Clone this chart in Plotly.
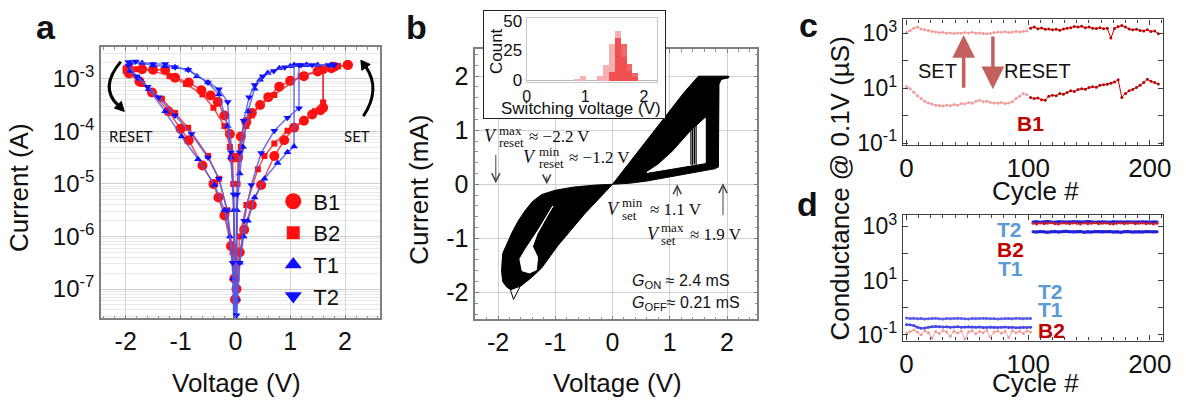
import numpy as np
import plotly.graph_objects as go

W, H = 1190, 410
FONT = "Liberation Sans, Arial, Helvetica, sans-serif"
SERIF = "Liberation Serif, DejaVu Serif, Times New Roman, serif"

def px(x):
    return x / W

def py(y):
    return 1 - y / H

# ---------------- Panel a : I-V loops (V in volts, log10 of current in A) ----------------
a_b1_v = [0.0, 0.02, 0.08, 0.16, 0.3, 0.47, 0.71, 0.89, 1.07, 1.25, 1.4, 1.55, 1.6, 1.6, 1.8, 2.05,
          2.05, 1.75, 1.5, 1.25, 1.0, 0.8, 0.6, 0.45, 0.3, 0.2, 0.1, 0.05, 0.0,
          -0.05, -0.1, -0.2, -0.32, -0.45, -0.62, -0.85, -1.1, -1.28, -1.5, -1.7, -1.94,
          -1.94, -1.75, -1.52, -1.22, -1.0, -0.85, -0.6, -0.4, -0.31, -0.2, -0.08, -0.02, 0.0]
a_b1_logi = [-7.2, -7.0, -6.3, -5.87, -5.4, -5.02, -4.47, -4.17, -3.93, -3.8, -3.68, -3.6, -3.55, -2.82, -2.77, -2.74,
             -2.74, -2.8, -2.86, -2.95, -3.04, -3.15, -3.35, -3.5, -3.65, -3.82, -4.1, -4.5, -7.2,
             -4.5, -4.05, -3.7, -3.44, -3.32, -3.22, -3.07, -2.98, -2.83, -2.83, -2.82, -2.81,
             -2.9, -3.05, -3.26, -3.62, -3.95, -4.17, -4.65, -5.0, -5.26, -5.6, -6.18, -6.8, -7.2]

a_b2_v = [0.0, 0.02, 0.08, 0.2, 0.41, 0.53, 0.71, 0.95, 1.25, 1.45, 1.6, 1.6, 1.87,
          1.87, 1.6, 1.19, 0.71, 0.45, 0.3, 0.2, 0.1, 0.04, 0.0,
          -0.04, -0.1, -0.2, -0.4, -0.6, -0.9, -1.2, -1.5, -1.8, -2.0,
          -2.0, -1.7, -1.34, -1.1, -0.86, -0.5, -0.3, -0.15, -0.05, 0.0]
a_b2_logi = [-7.2, -6.8, -6.0, -5.4, -4.72, -4.47, -4.23, -3.99, -3.8, -3.62, -3.45, -2.83, -2.76,
             -2.76, -2.82, -2.95, -3.31, -3.5, -3.7, -3.9, -4.3, -5.0, -7.2,
             -5.0, -4.3, -3.9, -3.55, -3.3, -3.1, -2.95, -2.85, -2.82, -2.8,
             -2.85, -3.1, -3.38, -3.65, -3.93, -4.47, -4.9, -5.5, -6.3, -7.2]

a_t1_v = [0.0, 0.03, 0.08, 0.15, 0.23, 0.35, 0.53, 0.77, 0.95, 1.07, 1.07, 1.3, 1.5, 1.75,
          1.75, 1.3, 1.0, 0.8, 0.59, 0.45, 0.35, 0.23, 0.14, 0.08, 0.03, 0.0,
          -0.03, -0.08, -0.14, -0.3, -0.5, -0.7, -0.86, -1.1, -1.28, -1.5, -1.7, -1.92,
          -1.92, -1.75, -1.58, -1.28, -0.98, -0.68, -0.38, -0.2, -0.1, -0.04, 0.0]
a_t1_logi = [-9.0, -7.2, -6.5, -6.0, -5.7, -5.26, -4.9, -4.6, -4.4, -4.29, -2.74, -2.74, -2.74, -2.74,
             -2.74, -2.74, -2.76, -2.8, -2.89, -3.02, -3.19, -3.62, -4.3, -4.8, -5.5, -9.0,
             -5.5, -4.5, -3.9, -3.3, -3.07, -2.95, -2.83, -2.78, -2.76, -2.75, -2.7, -2.7,
             -2.85, -3.0, -3.2, -3.62, -4.1, -4.53, -5.02, -5.5, -6.0, -6.8, -9.0]

a_t2_v = [0.0, 0.02, 0.08, 0.16, 0.29, 0.47, 0.71, 0.95, 1.16, 1.16, 1.4, 1.7, 1.8,
          1.8, 1.2, 0.9, 0.7, 0.5, 0.35, 0.25, 0.15, 0.08, 0.03, 0.0,
          -0.03, -0.08, -0.14, -0.3, -0.5, -0.86, -1.1, -1.28, -1.5, -1.82, -1.95,
          -1.95, -1.8, -1.6, -1.4, -1.1, -0.8, -0.5, -0.3, -0.15, -0.05, 0.0]
a_t2_logi = [-9.0, -7.5, -6.5, -5.7, -5.02, -4.41, -3.99, -3.74, -3.56, -2.74, -2.74, -2.74, -2.74,
             -2.74, -2.74, -2.78, -2.85, -2.95, -3.12, -3.35, -3.8, -4.4, -5.2, -9.0,
             -5.2, -4.4, -3.44, -3.2, -3.07, -2.83, -2.78, -2.72, -2.72, -2.67, -2.68,
             -2.75, -2.95, -3.15, -3.35, -3.7, -4.05, -4.5, -4.9, -5.5, -6.5, -9.0]

a_names = ["B1", "B2", "T1", "T2"]
a_tick_v = [-2, -1, 0, 1, 2]
a_tick_text = ["-2", "-1", "0", "1", "2"]
a_tick_i = [1e-7, 1e-6, 1e-5, 1e-4, 1e-3]
a_tick_i_text = ["10<sup>-7</sup>", "10<sup>-6</sup>", "10<sup>-5</sup>", "10<sup>-4</sup>", "10<sup>-3</sup>"]

# ---------------- Panel b : envelope of ~100 I-V cycles (V, mA) ----------------
b_pos_outer_v = [0, 0.35, 0.7, 1.05, 1.25, 1.5, 2.03, 2.03, 1.9, 1.86, 1.85, 1.8, 1.5, 1.2, 0.9, 0.6, 0.3, 0]
b_pos_outer_i = [0, 0.47, 0.95, 1.42, 1.7, 2.0, 2.0, 1.97, 1.94, 1.85, 0.33, 0.29, 0.23, 0.17, 0.11, 0.06, 0.02, 0]
b_pos_hole_v = [0.6, 1.0, 1.35, 1.62, 1.62, 1.37, 1.05, 0.8, 0.6]
b_pos_hole_i = [0.22, 0.29, 0.35, 0.4, 1.22, 0.98, 0.6, 0.36, 0.22]
b_neg_outer_v = [0, -0.3, -0.67, -1.0, -1.24, -1.4, -1.53, -1.65, -1.76, -1.85, -1.92, -1.94, -1.92,
                 -1.85, -1.78, -1.6, -1.55, -1.41, -1.24, -0.96, -0.49, 0]
b_neg_outer_i = [0, -0.015, -0.05, -0.11, -0.19, -0.32, -0.49, -0.68, -0.9, -1.1, -1.28, -1.6, -1.8,
                 -1.9, -1.95, -1.88, -1.84, -1.72, -1.55, -1.14, -0.55, 0]
b_neg_hole_v = [-1.04, -1.3, -1.52, -1.62, -1.58, -1.45, -1.33, -1.31, -1.40, -1.32, -1.06, -1.04]
b_neg_hole_i = [-0.40, -0.85, -1.2, -1.38, -1.6, -1.64, -1.58, -1.35, -1.15, -0.92, -0.43, -0.40]
b_tail_v = [-1.8, -1.73, -1.62]
b_tail_i = [-1.9, -2.13, -1.9]
b_set_v = [1.37, 1.40, 1.43, 1.46, 1.66, 1.72, 1.78, 1.84]
b_set_lo = [0.36, 0.35, 0.37, 0.36, 0.33, 0.31, 0.32, 0.30]
b_set_hi = [1.05, 1.10, 1.16, 1.22, 1.60, 1.75, 1.90, 1.96]
b_tick_v = [-2, -1, 0, 1, 2]
b_tick_text = ["-2", "-1", "0", "1", "2"]

# inset histogram of switching voltage
h_pink_v = [0.85, 0.95, 1.25, 1.35, 1.45, 1.55, 1.65, 1.75, 1.85]
h_pink_n = [1, 4, 4, 13, 31, 42, 20, 8, 3]
h_red_v = [1.45, 1.55, 1.65, 1.75, 1.85]
h_red_n = [7, 36, 31, 14, 6]

# ---------------- Panel c : B1 conductance vs cycle (log10 uS) ----------------
c_cyc1 = list(range(0, 100, 3))
c_cyc2 = list(range(102, 208, 3))
c_set1 = [3.02, 3.10, 3.18, 3.22, 3.15, 3.12, 3.10, 3.06, 3.04, 3.02, 3.03, 3.00, 3.01, 2.99, 3.01, 3.00, 3.02,
          3.01, 3.03, 3.00, 3.01, 2.99, 2.98, 2.99, 3.02, 3.04, 3.03, 3.05, 3.02, 3.04, 3.06, 3.04, 3.07, 3.08]
c_set2 = [3.18, 3.22, 3.16, 3.19, 3.14, 3.15, 3.12, 3.14, 3.11, 3.15, 3.18, 3.20, 3.24, 3.22, 3.25, 3.20, 3.22,
          3.18, 3.17, 3.20, 3.16, 3.18, 2.82, 3.17, 3.24, 3.28, 3.22, 3.15, 3.12, 3.14, 3.10, 3.08, 3.12, 3.06,
          3.08, 2.98]
c_rst1 = [1.06, 0.98, 0.85, 0.72, 0.62, 0.52, 0.46, 0.42, 0.38, 0.37, 0.35, 0.38, 0.36, 0.40, 0.38, 0.44, 0.42,
          0.48, 0.45, 0.52, 0.56, 0.50, 0.52, 0.48, 0.46, 0.45, 0.48, 0.44, 0.46, 0.50, 0.62, 0.70, 0.80, 0.76]
c_rst2 = [0.66, 0.62, 0.64, 0.58, 0.56, 0.70, 0.74, 0.72, 0.80, 0.78, 0.84, 0.90, 0.88, 0.95, 0.98, 0.96, 1.02,
          1.05, 1.03, 1.10, 1.12, 1.14, 1.18, 1.22, 1.30, 0.66, 0.80, 0.90, 0.95, 1.02, 1.10, 1.20, 1.32, 1.25,
          1.20, 1.15]

# ---------------- Panel d : T1, T2, B2 conductance vs cycle (log10 uS) ----------------
d_cyc_off = list(range(0, 103, 3))
d_cyc_on = list(range(104, 209, 3))
d_off_t2 = [-0.38, -0.40, -0.39, -0.41, -0.40, -0.42, -0.41, -0.40, -0.39, -0.41,
            -0.42, -0.40, -0.41, -0.40, -0.39, -0.40, -0.41, -0.42, -0.40, -0.41,
            -0.40, -0.39, -0.40, -0.41, -0.40, -0.42, -0.41, -0.40, -0.40, -0.41,
            -0.39, -0.40, -0.41, -0.40, -0.40]
d_off_t1 = [-0.62, -0.63, -0.66, -0.72, -0.76, -0.75, -0.72, -0.70, -0.69, -0.70,
            -0.71, -0.70, -0.72, -0.71, -0.70, -0.72, -0.71, -0.70, -0.71, -0.72,
            -0.71, -0.73, -0.72, -0.71, -0.72, -0.73, -0.72, -0.71, -0.73, -0.72,
            -0.74, -0.73, -0.72, -0.73, -0.72]
d_off_b2 = [-0.95, -0.88, -0.82, -0.90, -1.00, -0.85, -0.92, -1.12, -0.88, -0.95,
            -0.84, -0.90, -1.05, -0.87, -0.93, -0.86, -1.15, -0.90, -0.85, -0.96,
            -0.88, -0.92, -0.84, -1.08, -0.90, -0.86, -0.94, -0.88, -1.10, -0.85,
            -0.92, -0.87, -0.95, -0.86, -0.90]
d_on_t2 = [3.16, 3.17, 3.15, 3.16, 3.18, 3.16, 3.15, 3.17, 3.16, 3.15,
           3.16, 3.17, 3.16, 3.15, 3.16, 3.18, 3.16, 3.15, 3.16, 3.17,
           3.16, 3.15, 3.17, 3.16, 3.16, 3.15, 3.17, 3.16, 3.15, 3.16,
           3.17, 3.16, 3.15, 3.16, 3.16]
d_on_b2 = [3.11, 3.09, 3.12, 3.10, 3.11, 3.13, 3.10, 3.09, 3.12, 3.11,
           3.10, 3.12, 3.11, 3.09, 3.12, 3.10, 3.11, 3.13, 3.10, 3.11,
           3.12, 3.10, 3.09, 3.11, 3.12, 3.10, 3.11, 3.13, 3.10, 3.11,
           3.12, 3.10, 3.11, 3.09, 3.11]
d_on_t1 = [2.80, 2.79, 2.81, 2.80, 2.78, 2.80, 2.81, 2.79, 2.80, 2.82,
           2.80, 2.79, 2.80, 2.81, 2.78, 2.80, 2.79, 2.81, 2.80, 2.79,
           2.80, 2.81, 2.79, 2.80, 2.78, 2.80, 2.81, 2.79, 2.80, 2.80,
           2.79, 2.81, 2.80, 2.79, 2.80]
cd_tick_g = [0.1, 1, 10, 100, 1000]
cd_tick_text = ["10<sup>-1</sup>", "", "10<sup>1</sup>", "", "10<sup>3</sup>"]
cd_tick_cyc = [0, 100, 200]

RED_L = "rgba(235,45,50,0.85)"
BLUE_L = "rgba(80,90,235,0.85)"
RED_M = "#ff1010"
BLUE_M = "#1010ff"

fig = go.Figure()

# ---- panel a traces ----
a_sets = [
    (a_b1_v, a_b1_logi, "circle", 10, RED_M, RED_L),
    (a_b2_v, a_b2_logi, "square", 6, RED_M, RED_L),
    (a_t1_v, a_t1_logi, "triangle-up", 7, BLUE_M, BLUE_L),
    (a_t2_v, a_t2_logi, "triangle-down", 7, BLUE_M, BLUE_L),
]
for v, li, sym, sz, mc, lc in a_sets:
    fig.add_trace(go.Scatter(x=v, y=np.power(10.0, li), mode="lines+markers",
                             line=dict(color=lc, width=1.5),
                             marker=dict(symbol=sym, size=sz, color=mc, line=dict(width=0)),
                             xaxis="x", yaxis="y", showlegend=False, hoverinfo="skip"))
leg_sym = [("circle", 16, RED_M), ("square", 13, RED_M), ("triangle-up", 15, BLUE_M), ("triangle-down", 15, BLUE_M)]
for name, (sym, sz, col) in zip(a_names, leg_sym):
    fig.add_trace(go.Scatter(x=[None], y=[None], mode="markers", name=name,
                             marker=dict(symbol=sym, size=sz, color=col),
                             xaxis="x", yaxis="y", showlegend=True))

# ---- panel b traces ----
def poly(v, i, fillc):
    return go.Scatter(x=v, y=i, mode="lines", fill="toself", fillcolor=fillc,
                      line=dict(color=fillc, width=1), xaxis="x2", yaxis="y2",
                      showlegend=False, hoverinfo="skip")

fig.add_trace(poly(b_pos_outer_v, b_pos_outer_i, "black"))
fig.add_trace(poly(b_neg_outer_v, b_neg_outer_i, "black"))
fig.add_trace(poly(b_pos_hole_v, b_pos_hole_i, "white"))
fig.add_trace(poly(b_neg_hole_v, b_neg_hole_i, "white"))
sx, sy = [], []
for v, lo, hi in zip(b_set_v, b_set_lo, b_set_hi):
    sx += [v, v, None]
    sy += [lo, hi, None]
fig.add_trace(go.Scatter(x=sx, y=sy, mode="lines", line=dict(color="black", width=1.2),
                         xaxis="x2", yaxis="y2", showlegend=False, hoverinfo="skip"))
fig.add_trace(go.Scatter(x=b_tail_v, y=b_tail_i, mode="lines", line=dict(color="black", width=1),
                         xaxis="x2", yaxis="y2", showlegend=False, hoverinfo="skip"))

# ---- inset box + histogram ----
fig.add_trace(go.Scatter(x=[], y=[], xaxis="x5", yaxis="y5", showlegend=False, hoverinfo="skip"))
fig.add_trace(go.Bar(x=h_pink_v, y=h_pink_n, width=0.1, marker=dict(color="#f7b0b0", line=dict(width=0)),
                     xaxis="x6", yaxis="y6", showlegend=False, hoverinfo="skip"))
fig.add_trace(go.Bar(x=h_red_v, y=h_red_n, width=0.1, marker=dict(color="rgba(236,40,40,0.7)", line=dict(width=0)),
                     xaxis="x6", yaxis="y6", showlegend=False, hoverinfo="skip"))

# ---- panel c ----
def cyc_trace(x, logv, col, ax, ay, lw=1, ms=3):
    return go.Scatter(x=x, y=np.power(10.0, logv), mode="lines+markers",
                      line=dict(color=col, width=lw), marker=dict(color=col, size=ms),
                      xaxis=ax, yaxis=ay, showlegend=False, hoverinfo="skip")

PINK = "#f29c9c"
DRED = "#c00000"
fig.add_trace(cyc_trace(c_cyc1, c_set1, PINK, "x3", "y3"))
fig.add_trace(cyc_trace(c_cyc1, c_rst1, PINK, "x3", "y3"))
fig.add_trace(cyc_trace(c_cyc2, c_set2, DRED, "x3", "y3"))
fig.add_trace(cyc_trace(c_cyc2, c_rst2, DRED, "x3", "y3"))

# ---- panel d ----
fig.add_trace(cyc_trace(d_cyc_off, d_off_b2, PINK, "x4", "y4", 1, 3))
fig.add_trace(cyc_trace(d_cyc_off, d_off_t1, "#4646e6", "x4", "y4", 2, 3))
fig.add_trace(cyc_trace(d_cyc_off, d_off_t2, "#5a5af0", "x4", "y4", 2, 3))
fig.add_trace(cyc_trace(d_cyc_on, d_on_t1, "#2020d8", "x4", "y4", 3, 3))
fig.add_trace(cyc_trace(d_cyc_on, d_on_t2, "#2020d8", "x4", "y4", 3, 3))
fig.add_trace(cyc_trace(d_cyc_on, d_on_b2, "#cc2030", "x4", "y4", 1.5, 3))

# ---------------- axes ----------------
a_minor = [m * 10.0 ** e for e in range(-8, -1) for m in range(2, 10)]
frame_a = dict(showline=True, mirror="ticks", linecolor="#808080", linewidth=1.5, zeroline=False)

layout_axes = dict(
    xaxis=dict(domain=[px(98), px(380)], range=[-2.45, 2.64], anchor="y",
               tickmode="array", tickvals=a_tick_v, ticktext=a_tick_text,
               ticks="inside", ticklen=4, tickcolor="#808080", tickfont=dict(size=25, color="#111"),
               showgrid=True, gridcolor="#d4d4d4",
               minor=dict(dtick=0.2, tick0=0, ticks="inside", ticklen=3, tickcolor="#909090", showgrid=False),
               **frame_a),
    yaxis=dict(domain=[py(326), py(43)], type="log", range=[-7.56, -2.4], anchor="x",
               tickmode="array", tickvals=a_tick_i, ticktext=a_tick_i_text, ticks="",
               tickfont=dict(size=24, color="#111"),
               showgrid=True, gridcolor="#cfcfcf",
               minor=dict(tickmode="array", tickvals=a_minor, showgrid=True, gridcolor="#e9e9e9", ticks=""),
               **frame_a),
    xaxis2=dict(domain=[px(476), px(761)], range=[-2.4, 2.53], anchor="y2",
                tickmode="array", tickvals=b_tick_v, ticktext=b_tick_text,
                ticks="inside", ticklen=4, tickcolor="#808080", tickfont=dict(size=25, color="#111"),
                showgrid=True, gridcolor="#d0d0d0",
                minor=dict(dtick=0.2, tick0=0, ticks="inside", ticklen=3, tickcolor="#909090", showgrid=False),
                **frame_a),
    yaxis2=dict(domain=[py(327), py(45)], range=[-2.5, 2.5], anchor="x2",
                tickmode="array", tickvals=b_tick_v, ticktext=b_tick_text,
                ticks="inside", ticklen=4, tickcolor="#808080", tickfont=dict(size=25, color="#111"),
                showgrid=True, gridcolor="#d0d0d0",
                minor=dict(dtick=0.2, tick0=0, ticks="inside", ticklen=3, tickcolor="#909090", showgrid=False),
                **frame_a),
)
frame_cd = dict(showline=True, mirror="ticks", linecolor="#404040", linewidth=1.2, zeroline=False, showgrid=False,
                ticks="inside", ticklen=5, tickcolor="#404040")
for k, (ax, ay, y0, y1, yr) in enumerate([("xaxis3", "yaxis3", 145, 14, [-1.07, 3.5]),
                                           ("xaxis4", "yaxis4", 349, 218, [-1.21, 3.42])]):
    n = str(k + 3)
    layout_axes[ax] = dict(domain=[px(908), px(1171)], range=[-3, 211], anchor="y" + n,
                           tickmode="array", tickvals=cd_tick_cyc, tickfont=dict(size=26, color="#111"),
                           minor=dict(dtick=10, tick0=0, ticks="inside", ticklen=3, tickcolor="#404040"),
                           **frame_cd)
    layout_axes[ay] = dict(domain=[py(y0), py(y1)], type="log", range=yr, anchor="x" + n,
                           tickmode="array", tickvals=cd_tick_g, ticktext=cd_tick_text,
                           tickfont=dict(size=23, color="#111"), **frame_cd)

layout_axes["xaxis5"] = dict(domain=[px(485), px(668)], range=[0, 1], anchor="y5", showline=True, mirror=True,
                             linecolor="#222", linewidth=1, showticklabels=False, ticks="", showgrid=False,
                             zeroline=False)
layout_axes["yaxis5"] = dict(domain=[py(117), py(5)], range=[0, 1], anchor="x5", showline=True, mirror=True,
                             linecolor="#222", linewidth=1, showticklabels=False, ticks="", showgrid=False,
                             zeroline=False)
layout_axes["xaxis6"] = dict(domain=[px(528), px(660)], range=[0, 2.23], anchor="y6",
                             tickmode="array", tickvals=[0, 1, 2], tickfont=dict(size=16, color="#111"),
                             showline=True, mirror=True, linecolor="#c8c8c8", ticks="", showgrid=False,
                             zeroline=False)
layout_axes["yaxis6"] = dict(domain=[py(79), py(12)], range=[-1.4, 52.8], anchor="x6",
                             tickmode="array", tickvals=[0, 25, 50], tickfont=dict(size=17, color="#111"),
                             showline=True, mirror=True, linecolor="#c8c8c8", ticks="", showgrid=False,
                             zeroline=True, zerolinecolor="#b8b8b8", zerolinewidth=1)

# ---------------- annotations ----------------
ann = []

def txt(x, y, s, size, color="#111", family=FONT, angle=0, xanchor="center", yanchor="middle"):
    ann.append(dict(x=px(x), y=py(y), xref="paper", yref="paper", text=s, showarrow=False,
                    font=dict(size=size, color=color, family=family), textangle=angle,
                    xanchor=xanchor, yanchor=yanchor))

# panel letters
txt(42, 22, "<b>a</b>", 34)
txt(417, 22, "<b>b</b>", 34)
txt(813, 20, "<b>c</b>", 34)
txt(812, 207, "<b>d</b>", 34)
# axis titles
txt(15, 189, "Current (A)", 26, angle=-90)
txt(235, 393, "Voltage (V)", 26)
txt(419, 192, "Current (mA)", 26, angle=-90)
txt(620, 393, "Voltage (V)", 26)
txt(845, 190, "Conductance @ 0.1V (µS)", 26, angle=-90)
txt(1042, 193, "Cycle #", 26)
txt(1042, 393, "Cycle #", 26)
# panel a labels
txt(128, 136, "RESET", 15, family="Lato, Open Sans, sans-serif")
txt(357, 136, "SET", 15, family="Lato, Open Sans, sans-serif")
# inset titles
txt(497, 47, "Count", 17, angle=-90)
txt(583, 107, "Switching voltage (V)", 17)
# panel b math labels
def vlabel(xv, yv, sup, sub, rest, xsup, xrest):
    txt(xv, yv, "<i>V</i>", 18, family=SERIF)
    txt(xsup, yv - 6.5, sup, 13, family=SERIF, xanchor="left")
    txt(xsup, yv + 6.5, sub, 13, family=SERIF, xanchor="left")
    txt(xrest, yv, rest, 17, family=SERIF, xanchor="left")

vlabel(491, 136, "max", "reset", "≈ −2.2 V", 498, 528)
vlabel(531, 158, "min", "reset", "≈ −1.2 V", 538, 569)
vlabel(616, 212, "min", "set", "≈ 1.1 V", 622, 651)
vlabel(656, 238, "max", "set", "≈ 1.9 V", 662, 691)
txt(632, 287, "<i>G</i><sub>ON</sub> ≈ 2.4 mS", 16, xanchor="left")
txt(632, 310, "<i>G</i><sub>OFF</sub>≈ 0.21 mS", 16, xanchor="left")
# panel c labels
txt(943, 68, "SET", 20)
txt(1044, 68, "RESET", 20)
txt(1037, 123, "<b>B1</b>", 21, color="#c00000")
# panel d labels
LBLUE = "#5b9bd5"
txt(1016, 233, "<b>T2</b>", 21, color=LBLUE)
txt(1017, 254, "<b>B2</b>", 21, color="#c00000")
txt(1017, 274, "<b>T1</b>", 21, color=LBLUE)
txt(1057, 298, "<b>T2</b>", 21, color=LBLUE)
txt(1057, 317, "<b>T1</b>", 21, color=LBLUE)
txt(1058, 339, "<b>B2</b>", 21, color="#c00000")

# arrows in b (data coords)
for xh, yh, yt in [(-2.04, 0.02, 0.57), (-1.15, 0.0, 0.17), (1.13, 0.0, -0.25), (1.93, 0.02, -0.6)]:
    ann.append(dict(x=xh, y=yh, ax=xh, ay=yt, xref="x2", yref="y2", axref="x2", ayref="y2",
                    text="", showarrow=True, arrowhead=5, arrowsize=1.6, arrowwidth=1, arrowcolor="#444"))
# arrows in c (log axis -> log10 units)
ARC = "rgba(190,80,78,0.9)"
ann.append(dict(x=47, y=2.93, ax=47, ay=0.96, xref="x3", yref="y3", axref="x3", ayref="y3", text="",
                showarrow=True, arrowhead=2, arrowsize=1.3, arrowwidth=3.5, arrowcolor=ARC))
ann.append(dict(x=71, y=0.96, ax=71, ay=2.93, xref="x3", yref="y3", axref="x3", ayref="y3", text="",
                showarrow=True, arrowhead=2, arrowsize=1.3, arrowwidth=3.5, arrowcolor=ARC))

# curved arrows in a
shapes = [
    dict(type="path", xref="paper", yref="paper", layer="above",
         path=f"M {px(118)},{py(58)} Q {px(96)},{py(85)} {px(115.2)},{py(103.5)}",
         line=dict(color="black", width=3)),
    dict(type="path", xref="paper", yref="paper", layer="above",
         path=f"M {px(121.5)},{py(110)} L {px(111.5)},{py(106.5)} L {px(118.5)},{py(99.5)} Z",
         fillcolor="black", line=dict(color="black", width=1)),
    dict(type="path", xref="paper", yref="paper", layer="above",
         path=f"M {px(363)},{py(115)} Q {px(381)},{py(87)} {px(365.6)},{py(63.5)}",
         line=dict(color="black", width=3)),
    dict(type="path", xref="paper", yref="paper", layer="above",
         path=f"M {px(360.5)},{py(56.5)} L {px(370)},{py(61)} L {px(361.5)},{py(67)} Z",
         fillcolor="black", line=dict(color="black", width=1)),
]

fig.update_layout(
    width=W, height=H, autosize=False,
    margin=dict(l=0, r=0, t=0, b=0, pad=0),
    paper_bgcolor="white", plot_bgcolor="white",
    font=dict(family=FONT, color="#111"),
    barmode="overlay", bargap=0,
    showlegend=True,
    legend=dict(x=px(272), y=py(182), xanchor="left", yanchor="top", bgcolor="rgba(0,0,0,0)",
                font=dict(size=22, family=FONT, color="#111"), itemwidth=30, tracegroupgap=0),
    annotations=ann, shapes=shapes,
    **layout_axes,
)

fig.write_html("out.html", include_plotlyjs=True, config={"displayModeBar": False})
